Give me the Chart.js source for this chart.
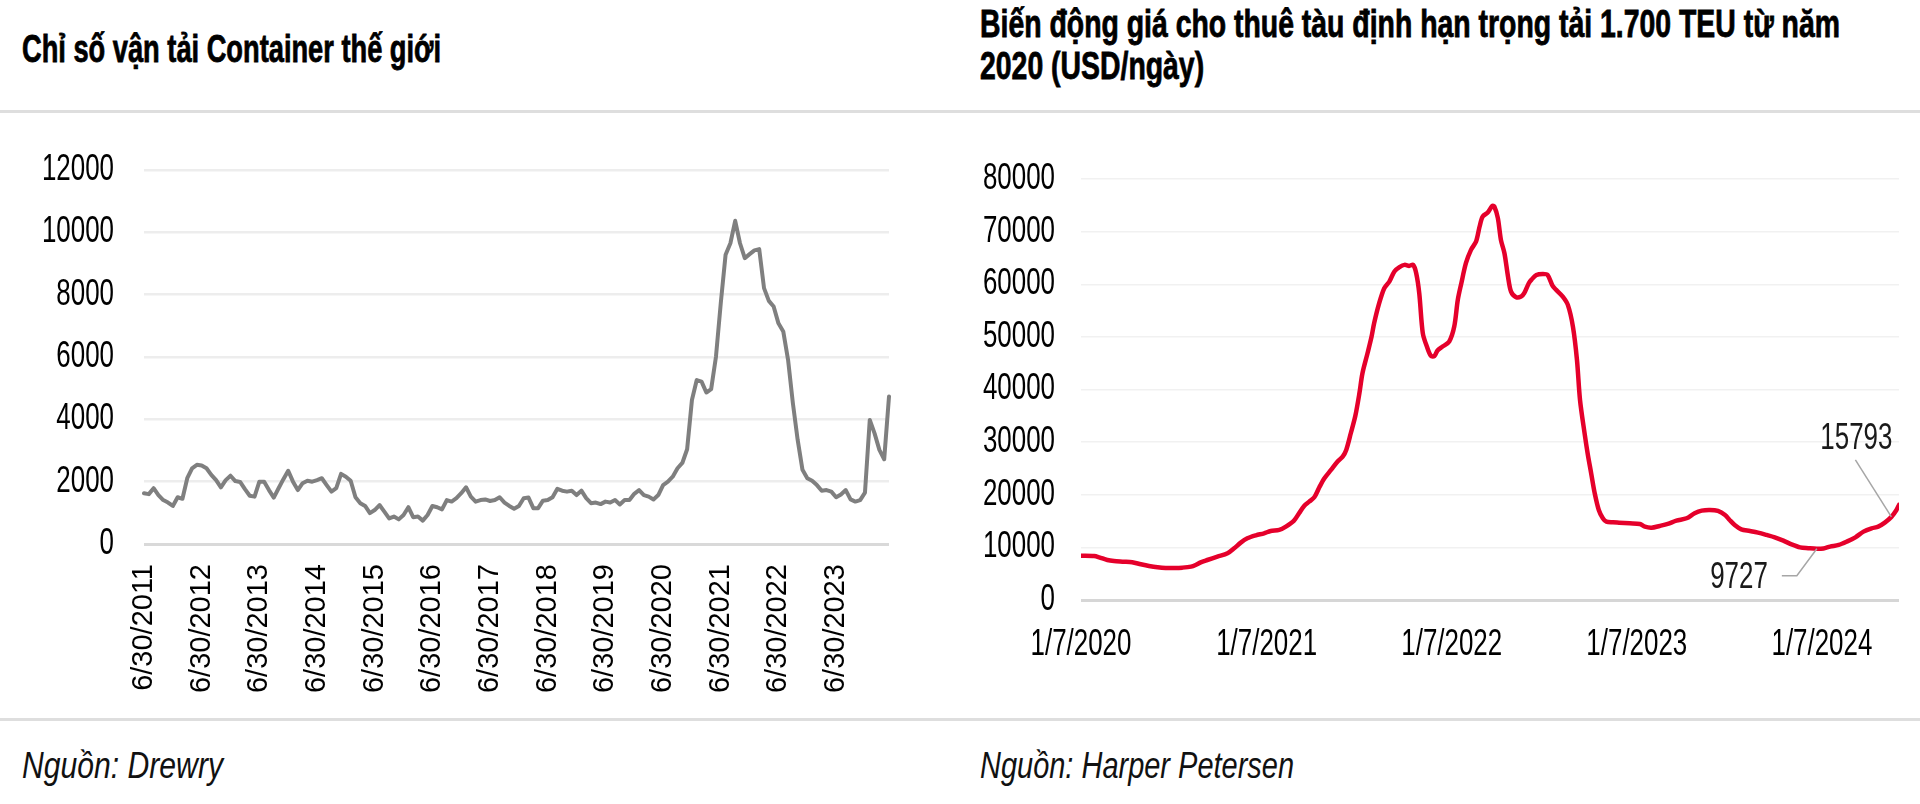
<!DOCTYPE html>
<html lang="vi">
<head>
<meta charset="utf-8">
<title>Container</title>
<script src="https://cdn.jsdelivr.net/npm/chart.js@4.4.1/dist/chart.umd.min.js"></script>
<style>
    html, body { margin: 0; padding: 0; background: #fff; }
    body {
        width: 1920px; height: 804px; position: relative; overflow: hidden;
        font-family: 'Liberation Sans Narrow', 'Liberation Sans', Arial, sans-serif;
        color: #000;
    }
    .title {
        position: absolute; font-weight: bold; font-size: 38px; line-height: 42px;
        white-space: nowrap; transform-origin: 0 0; display: inline-block;
        -webkit-text-stroke: 0.8px #000;
    }
    .source {
        position: absolute; font-style: italic; font-size: 36px; line-height: 36px;
        white-space: nowrap; transform-origin: 0 0; display: inline-block;
        color: #111;
    }
    .rule { position: absolute; left: 0; width: 1920px; height: 3px; background: #dedede; }
    canvas { position: absolute; }
</style>
</head>
<body>
    <div class="title" id="title-left" style="left:22px; top:28px;">Chỉ số vận tải Container thế giới</div>
    <div class="title" id="title-right" style="left:980px; top:3px;">
        <div>Biến động giá cho thuê tàu định hạn trọng tải 1.700 TEU từ năm</div>
        <div>2020 (USD/ngày)</div>
    </div>

    <div class="rule" style="top:110px;"></div>
    <div class="rule" style="top:718px;"></div>

    <canvas id="leftChart" width="960" height="608" style="left:0; top:112px;"></canvas>
    <canvas id="rightChart" width="960" height="608" style="left:960px; top:112px;"></canvas>

    <div class="source" id="source-left" style="left:22px; top:748px;">Nguồn: Drewry</div>
    <div class="source" id="source-right" style="left:980px; top:748px;">Nguồn: Harper Petersen</div>

<script>
// --- Left chart data: World Container Index (Drewry), monthly 6/2011 - 5/2024 ---
const leftTickLabels = [
    '6/30/2011', '6/30/2012', '6/30/2013', '6/30/2014', '6/30/2015', '6/30/2016', '6/30/2017',
    '6/30/2018', '6/30/2019', '6/30/2020', '6/30/2021', '6/30/2022', '6/30/2023'
];
const leftValues = [
    1630, 1600, 1790, 1570, 1410, 1330, 1220, 1500, 1450, 2110, 2430, 2540,
    2520, 2430, 2220, 2050, 1820, 2050, 2190, 2020, 1990, 1760, 1550, 1520,
    2000, 2000, 1730, 1490, 1790, 2080, 2350, 2000, 1730, 1950, 2030, 2000,
    2050, 2110, 1890, 1680, 1790, 2250, 2160, 2030, 1500, 1310, 1220, 990,
    1090, 1250, 1040, 820, 880, 790, 930, 1180, 860, 880, 750, 930,
    1220, 1180, 1110, 1410, 1360, 1470, 1630, 1820, 1520, 1360, 1410, 1430,
    1380, 1410, 1500, 1330, 1220, 1130, 1220, 1470, 1490, 1150, 1150, 1390,
    1410, 1500, 1770, 1710, 1680, 1710, 1570, 1710, 1470, 1310, 1330, 1280,
    1360, 1330, 1410, 1270, 1410, 1410, 1610, 1730, 1570, 1520, 1430, 1570,
    1890, 2000, 2160, 2430, 2600, 3040, 4620, 5260, 5210, 4860, 4970, 6010,
    7730, 9280, 9650, 10370, 9650, 9170, 9300, 9420, 9460, 8210, 7800, 7620,
    7080, 6820, 5910, 4520, 3340, 2380, 2110, 2030, 1890, 1710, 1730, 1680,
    1500, 1590, 1730, 1430, 1360, 1410, 1650, 3980, 3550, 3020, 2720, 4730
];
const leftYTicks = [0, 2000, 4000, 6000, 8000, 10000, 12000];

// --- Right chart data: 1.700 TEU time-charter rate (Harper Petersen), USD/day ---
// x = days since 1/7/2020
const rightTickLabels = ['1/7/2020', '1/7/2021', '1/7/2022', '1/7/2023', '1/7/2024'];
const rightTickDays = [0, 366, 731, 1096, 1461];
const rightDays = [
    0, 26, 36, 52, 65, 85, 101, 118, 134, 151, 167, 184, 200, 217, 226, 236, 249, 269, 289, 302,
    315, 328, 345, 361, 374, 391, 404, 420, 430, 440, 450, 460, 470, 480, 493, 506, 516, 523, 532, 541,
    549, 555, 565, 573, 578, 588, 598, 608, 618, 628, 638, 647, 655, 661, 667, 674, 682, 690, 697, 703,
    713, 726, 736, 743, 750, 759, 769, 779, 786, 792, 802, 811, 815, 822, 828, 835, 842, 848, 858, 868,
    874, 883, 888, 898, 911, 920, 930, 937, 950, 960, 970, 978, 984, 993, 999, 1006, 1013, 1021, 1029, 1036,
    1049, 1061, 1082, 1102, 1112, 1125, 1141, 1157, 1174, 1194, 1210, 1224, 1240, 1256, 1270, 1279, 1289, 1302, 1319, 1335,
    1352, 1368, 1385, 1401, 1418, 1434, 1451, 1464, 1477, 1494, 1510, 1527, 1543, 1559, 1572, 1585, 1598, 1608, 1613
];
const rightValues = [
    8430, 8360, 8110, 7600, 7410, 7290, 7160, 6780, 6460, 6210, 6080, 6080, 6150, 6340, 6650, 7160, 7600, 8240, 8870, 9820,
    10900, 11720, 12290, 12670, 13120, 13310, 13940, 15080, 16480, 17870, 18690, 19520, 21420, 23130, 24710, 26300, 27250, 28520, 31680, 35000,
    39290, 43090, 46890, 50060, 52590, 56400, 59250, 60510, 62420, 63240, 63680, 63490, 63680, 62100, 58300, 50690, 48160, 46380, 46380, 47400,
    48160, 49110, 51960, 57030, 60200, 64000, 66540, 68120, 70970, 72870, 73630, 74900, 74770, 72560, 68440, 65900, 61470, 58610, 57540, 57660,
    58300, 60200, 60830, 61780, 61970, 61780, 59690, 58930, 57660, 56080, 51960, 45620, 38020, 31680, 27880, 24080, 20280, 17110, 15530, 14890,
    14770, 14700, 14580, 14450, 13940, 13750, 14070, 14450, 15080, 15530, 16480, 16980, 17110, 16920, 16160, 15210, 14260, 13430, 13120, 12800,
    12360, 11910, 11280, 10580, 10010, 9850, 9727, 9800, 10150, 10460, 11090, 11910, 12990, 13620, 13940, 14700, 15793, 17110, 18060
];
const rightNotes = [
    { day: 1451, value: 9727, text: '9727' },
    { day: 1598, value: 15793, text: '15793' }
];

document.addEventListener('DOMContentLoaded', () => {
    const sans = "'Liberation Sans', Arial, sans-serif";

    // --- Squeeze the HTML texts to the condensed widths of the original ---
    function squeeze(id, targetWidth) {
        const el = document.getElementById(id);
        const w = el.getBoundingClientRect().width;
        el.style.transform = `scaleX(${targetWidth / w})`;
    }
    squeeze('title-left', 419);
    squeeze('title-right', 860);
    squeeze('source-left', 201);
    squeeze('source-right', 314);

    // --- Condensed canvas labels: texts at 36px get squeezed through fillText's maxWidth ---
    function condenseText(canvas, factor) {
        const ctx = canvas.getContext('2d');
        const fill = ctx.fillText.bind(ctx);
        ctx.fillText = (text, x, y, maxWidth) => {
            if (ctx.font.includes('36px')) {
                maxWidth = ctx.measureText(text).width * factor;
            }
            fill(text, x, y, maxWidth);
        };
    }

    const leftCanvas = document.getElementById('leftChart');
    const rightCanvas = document.getElementById('rightChart');
    condenseText(leftCanvas, 0.72);
    condenseText(rightCanvas, 0.72);

    Chart.defaults.animation = false;
    Chart.defaults.color = '#000';

    // --- Left chart ---
    const leftLabels = leftValues.map((v, i) => (i % 12 === 0 ? leftTickLabels[i / 12] : ''));

    new Chart(leftCanvas, {
        type: 'line',
        data: {
            labels: leftLabels,
            datasets: [{
                data: leftValues,
                borderColor: '#7f7f7f',
                borderWidth: 4,
                pointRadius: 0,
                tension: 0,
                borderJoinStyle: 'round',
                borderCapStyle: 'round'
            }]
        },
        options: {
            responsive: false,
            layout: { padding: { left: 0, right: 71, top: 58, bottom: 0 } },
            plugins: { legend: { display: false }, tooltip: { enabled: false } },
            scales: {
                x: {
                    type: 'category',
                    grid: { display: false },
                    border: { display: false },
                    ticks: {
                        autoSkip: false,
                        minRotation: 90,
                        maxRotation: 90,
                        padding: 12,
                        color: '#000',
                        font: { family: sans, size: 29 }
                    },
                    afterFit: (scale) => { scale.height = 176; }
                },
                y: {
                    min: 0,
                    max: 12000,
                    afterBuildTicks: (scale) => { scale.ticks = leftYTicks.map(v => ({ value: v })); },
                    grid: {
                        drawTicks: false,
                        color: (c) => (c.tick.value === 0 ? '#d9d9d9' : '#ededed'),
                        lineWidth: (c) => (c.tick.value === 0 ? 3 : 2.5)
                    },
                    border: { display: false },
                    ticks: {
                        padding: 30,
                        color: '#000',
                        font: { family: sans, size: 36 },
                        callback: (value) => String(value)
                    },
                    afterFit: (scale) => { scale.width = 144; }
                }
            }
        }
    });

    // --- Right chart ---
    const noteLayout = [
        { path: [[-20, 27], [-35, 27]], tx: -49, ty: 29, align: 'right' },
        { path: [[-36, -57]], tx: -35, ty: -78, align: 'center' }
    ];

    const noteLabels = {
        id: 'noteLabels',
        afterDatasetsDraw(chart) {
            const { ctx, scales: { x, y } } = chart;
            ctx.save();
            ctx.strokeStyle = '#a6a6a6';
            ctx.lineWidth = 1.5;
            ctx.fillStyle = '#1a1a1a';
            ctx.font = `36px ${sans}`;
            ctx.textBaseline = 'middle';
            rightNotes.forEach((note, i) => {
                const px = x.getPixelForValue(note.day);
                const py = y.getPixelForValue(note.value);
                const lay = noteLayout[i];
                ctx.beginPath();
                ctx.moveTo(px, py);
                lay.path.forEach(([dx, dy]) => ctx.lineTo(px + dx, py + dy));
                ctx.stroke();
                ctx.textAlign = lay.align;
                ctx.fillText(note.text, px + lay.tx, py + lay.ty);
            });
            ctx.restore();
        }
    };

    new Chart(rightCanvas, {
        type: 'line',
        data: {
            datasets: [{
                data: rightDays.map((d, i) => ({ x: d, y: rightValues[i] })),
                borderColor: '#e5002b',
                borderWidth: 4.5,
                pointRadius: 0,
                tension: 0.3,
                borderJoinStyle: 'round',
                borderCapStyle: 'round'
            }]
        },
        options: {
            responsive: false,
            layout: { padding: { left: 0, right: 21, top: 67, bottom: 0 } },
            plugins: { legend: { display: false }, tooltip: { enabled: false } },
            scales: {
                x: {
                    type: 'linear',
                    min: 0,
                    max: rightDays[rightDays.length - 1],
                    afterBuildTicks: (scale) => { scale.ticks = rightTickDays.map(v => ({ value: v })); },
                    grid: { display: false },
                    border: { display: false },
                    ticks: {
                        autoSkip: false,
                        maxRotation: 0,
                        padding: 15,
                        color: '#000',
                        font: { family: sans, size: 36 },
                        callback: (value) => rightTickLabels[rightTickDays.indexOf(value)]
                    },
                    afterFit: (scale) => { scale.height = 120; }
                },
                y: {
                    min: 0,
                    max: 80000,
                    ticks: {
                        stepSize: 10000,
                        padding: 26,
                        color: '#000',
                        font: { family: sans, size: 36 },
                        callback: (value) => String(value)
                    },
                    grid: {
                        drawTicks: false,
                        color: (c) => (c.tick.value === 0 ? '#d6d6d6' : '#f1f1f1'),
                        lineWidth: (c) => (c.tick.value === 0 ? 3 : 1.5)
                    },
                    border: { display: false },
                    afterFit: (scale) => { scale.width = 121; }
                }
            }
        },
        plugins: [noteLabels]
    });
});
</script>
</body>
</html>
